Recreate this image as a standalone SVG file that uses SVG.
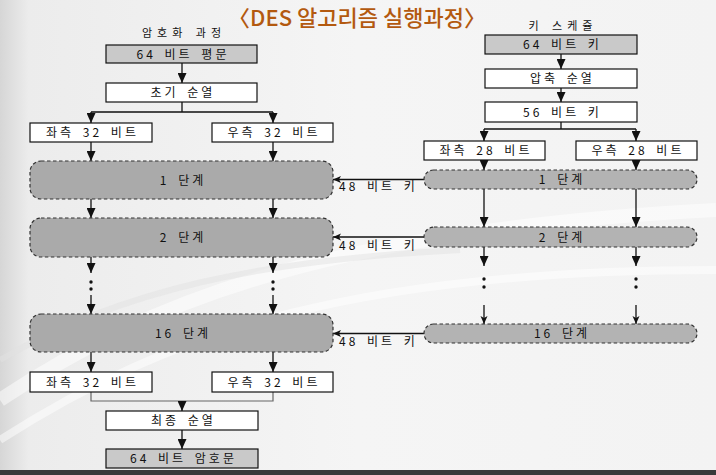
<svg xmlns="http://www.w3.org/2000/svg" width="716" height="475" viewBox="0 0 716 475">
<style>
.t{font-family:"Noto Sans CJK KR","Noto Sans",sans-serif;font-size:12px;fill:#111;text-anchor:middle;letter-spacing:3px;word-spacing:3px}
.h{font-size:11px;letter-spacing:5px;word-spacing:1px}
.k{text-anchor:start}
.box{stroke:#111;stroke-width:1.2}
.w{fill:#fff}
.g{fill:#c9c9c9}
.st{fill:#aaaaaa;stroke:#333;stroke-width:1.2;stroke-dasharray:3.5 2.5}
.pl{fill:#b3b3b3;stroke:#333;stroke-width:1.2;stroke-dasharray:3.5 2.5}
.c line,.c path{stroke:#111;stroke-width:1.3;fill:none}
.c .m{stroke:#666;stroke-width:1.2}
.a{marker-end:url(#ah)}
.b{marker-end:url(#as)}
</style>
<defs>
<marker id="ah" markerUnits="userSpaceOnUse" markerWidth="11" markerHeight="9" refX="10" refY="4.5" orient="auto" viewBox="0 0 11 9"><path d="M0,0 L10,4.5 L0,9 z" fill="#111"/></marker>
<marker id="as" markerUnits="userSpaceOnUse" markerWidth="9" markerHeight="8" refX="8" refY="4" orient="auto" viewBox="0 0 9 8"><path d="M0,0.5 L8,4 L0,7.5 L2,4 z" fill="#111"/></marker>
<linearGradient id="bg" x1="0" y1="0" x2="1" y2="0">
<stop offset="0" stop-color="#d6d6d6"/><stop offset="0.04" stop-color="#ececec"/><stop offset="0.5" stop-color="#f5f5f5"/><stop offset="1" stop-color="#f3f3f3"/>
</linearGradient>
</defs>
<rect width="716" height="475" fill="url(#bg)"/>
<path d="M0,400 C150,300 330,230 716,210" stroke="#fff" stroke-width="14" fill="none" opacity="0.5"/>
<path d="M0,440 C170,330 360,270 716,270" stroke="#fff" stroke-width="8" fill="none" opacity="0.5"/>
<path d="M0,360 C120,290 260,260 460,250" stroke="#e2e2e2" stroke-width="6" fill="none" opacity="0.5"/>
<rect y="470" width="716" height="5" fill="#3a3a3a"/>
<text x="357" y="26" style="font-family:'Noto Sans CJK KR',sans-serif;font-size:22px;font-weight:500;fill:#b3590f;text-anchor:middle">〈DES 알고리즘 실행과정〉</text>
<text class="t h" x="184" y="37">암호화 과정</text>
<text class="t h" x="563" y="30">키 스케쥴</text>
<g class="c" id="connectors">
<line class="a" x1="182" y1="63" x2="182" y2="83"/>
<path d="M182,102 V112 M91,112 H273"/>
<line class="a" x1="91" y1="112" x2="91" y2="123"/>
<line class="a" x1="273" y1="112" x2="273" y2="123"/>
<line class="a" x1="91" y1="142" x2="91" y2="161"/>
<line class="a" x1="273" y1="142" x2="273" y2="161"/>
<line class="a" x1="91" y1="199" x2="91" y2="218"/>
<line class="a" x1="273" y1="199" x2="273" y2="218"/>
<line class="a" x1="91" y1="257" x2="91" y2="273"/>
<line class="a" x1="273" y1="257" x2="273" y2="273"/>
<line class="a" x1="91" y1="295" x2="91" y2="314"/>
<line class="a" x1="273" y1="295" x2="273" y2="314"/>
<line class="a" x1="91" y1="352" x2="91" y2="372"/>
<line class="a" x1="273" y1="352" x2="273" y2="372"/>
<path class="m" d="M91,392 V401 H273 V392"/>
<line class="a" x1="182" y1="401" x2="182" y2="411"/>
<line class="a" x1="182" y1="430" x2="182" y2="449"/>
<line class="a" x1="561" y1="54" x2="561" y2="69"/>
<line class="a" x1="561" y1="88" x2="561" y2="102"/>
<path d="M561,122 V129 M484,129 H636"/>
<line class="a" x1="484" y1="129" x2="484" y2="141"/>
<line class="a" x1="636" y1="129" x2="636" y2="141"/>
<line class="a" x1="484" y1="160" x2="484" y2="170"/>
<line class="a" x1="636" y1="160" x2="636" y2="170"/>
<line class="a" x1="484" y1="189" x2="484" y2="227"/>
<line class="a" x1="636" y1="189" x2="636" y2="227"/>
<line class="a" x1="484" y1="247" x2="484" y2="266"/>
<line class="a" x1="636" y1="247" x2="636" y2="266"/>
<line class="b" x1="484" y1="305" x2="484" y2="324"/>
<line class="b" x1="636" y1="305" x2="636" y2="324"/>
<line class="b" x1="424" y1="179.5" x2="333" y2="179.5"/>
<line class="b" x1="424" y1="237" x2="333" y2="237"/>
<line class="b" x1="424" y1="333.5" x2="333" y2="333.5"/>
<g fill="#111"><circle cx="91" cy="282" r="1.7"/><circle cx="91" cy="289" r="1.7"/><circle cx="273" cy="282" r="1.7"/><circle cx="273" cy="289" r="1.7"/><circle cx="484" cy="279" r="1.7"/><circle cx="484" cy="287" r="1.7"/><circle cx="636" cy="279" r="1.7"/><circle cx="636" cy="287" r="1.7"/></g>
<text class="t k" x="339" y="191">48 비트 키</text>
<text class="t k" x="339" y="249.5">48 비트 키</text>
<text class="t k" x="339" y="345.5">48 비트 키</text>
</g>
<g id="plaintext"><rect class="box g" x="106" y="45" width="151" height="18"/><text class="t" x="183" y="58.5">64 비트 평문</text></g>
<g id="ip"><rect class="box w" x="106" y="83" width="151" height="19"/><text class="t" x="183" y="97">초기 순열</text></g>
<g id="l32a"><rect class="box w" x="30" y="123" width="122" height="19"/><text class="t" x="92.5" y="137">좌측 32 비트</text></g>
<g id="r32a"><rect class="box w" x="212" y="123" width="121" height="19"/><text class="t" x="274" y="137">우측 32 비트</text></g>
<g id="round1"><rect class="st" x="30" y="161" width="303" height="38" rx="11"/><text class="t" x="183" y="184.5">1 단계</text></g>
<g id="round2"><rect class="st" x="30" y="218" width="303" height="39" rx="11"/><text class="t" x="183" y="242">2 단계</text></g>
<g id="round16"><rect class="st" x="30" y="314" width="303" height="38" rx="11"/><text class="t" x="183" y="337.5">16 단계</text></g>
<g id="l32b"><rect class="box w" x="30" y="372" width="122" height="20"/><text class="t" x="92.5" y="386.5">좌측 32 비트</text></g>
<g id="r32b"><rect class="box w" x="212" y="372" width="121" height="20"/><text class="t" x="274" y="386.5">우측 32 비트</text></g>
<g id="fp"><rect class="box w" x="106" y="411" width="152" height="19"/><text class="t" x="183.5" y="425">최종 순열</text></g>
<g id="ciphertext"><rect class="box g" x="106" y="449" width="152" height="19"/><text class="t" x="183.5" y="463">64 비트 암호문</text></g>
<g id="key64"><rect class="box g" x="485" y="35" width="152" height="19"/><text class="t" x="562.5" y="49">64 비트 키</text></g>
<g id="pc1"><rect class="box w" x="485" y="69" width="152" height="19"/><text class="t" x="562.5" y="83">압축 순열</text></g>
<g id="key56"><rect class="box w" x="485" y="102" width="152" height="20"/><text class="t" x="562.5" y="116.5">56 비트 키</text></g>
<g id="l28"><rect class="box w" x="424" y="141" width="121" height="19"/><text class="t" x="486" y="155">좌측 28 비트</text></g>
<g id="r28"><rect class="box w" x="576" y="141" width="121" height="19"/><text class="t" x="638" y="155">우측 28 비트</text></g>
<g id="kround1"><rect class="pl" x="424" y="170" width="273" height="19" rx="9.5"/><text class="t" x="562" y="184">1 단계</text></g>
<g id="kround2"><rect class="pl" x="424" y="227" width="273" height="20" rx="10"/><text class="t" x="562" y="241.5">2 단계</text></g>
<g id="kround16"><rect class="pl" x="424" y="324" width="273" height="19" rx="9.5"/><text class="t" x="562" y="338">16 단계</text></g>
</svg>
